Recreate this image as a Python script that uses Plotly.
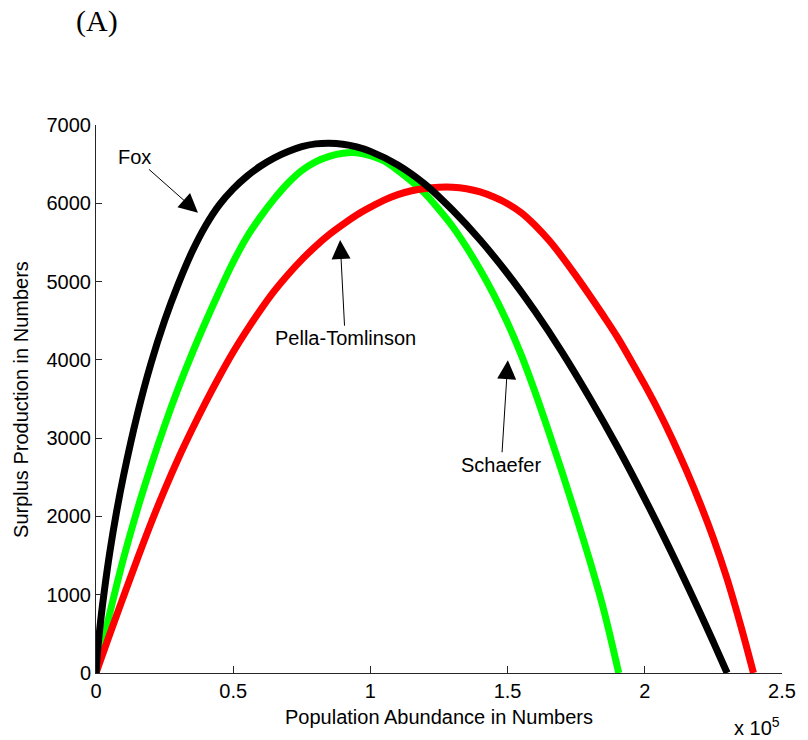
import plotly.graph_objects as go

# Population abundance (x 10^5) and surplus production
fox_n = [0, 0.005, 0.01, 0.02, 0.03, 0.05, 0.075, 0.10, 0.15, 0.20, 0.25, 0.30, 0.35, 0.40,
         0.45, 0.50, 0.55, 0.60, 0.65, 0.70, 0.75, 0.80, 0.85, 0.90, 0.95, 1.00, 1.10, 1.20,
         1.30, 1.40, 1.50, 1.60, 1.70, 1.80, 1.90, 2.00, 2.10, 2.20, 2.25, 2.30]
fox_p = [0, 250, 440, 760, 1040, 1535, 2060, 2515, 3295, 3950, 4500, 4970, 5380, 5717,
         5983, 6184, 6345, 6476, 6581, 6662, 6724, 6759, 6768, 6755, 6720, 6663, 6490, 6240,
         5910, 5530, 5100, 4620, 4090, 3510, 2890, 2225, 1520, 780, 395, 0]

pella_n = [0, 0.025, 0.05, 0.10, 0.15, 0.20, 0.25, 0.30, 0.35, 0.40, 0.45, 0.50, 0.55, 0.60,
           0.65, 0.70, 0.75, 0.80, 0.85, 0.90, 0.95, 1.00, 1.05, 1.10, 1.15, 1.20, 1.25, 1.30,
           1.35, 1.40, 1.45, 1.50, 1.55, 1.60, 1.65, 1.70, 1.75, 1.80, 1.85, 1.905]
pella_p = [0, 390, 760, 1460, 2080, 2640, 3160, 3640, 4080, 4490, 4880, 5250, 5570, 5830,
           6060, 6260, 6420, 6530, 6600, 6640, 6645, 6610, 6540, 6420, 6280, 6120, 5920, 5700,
           5440, 5150, 4830, 4470, 4060, 3590, 3080, 2550, 2000, 1430, 810, 0]

schaefer_n = [0, 0.05, 0.10, 0.15, 0.20, 0.25, 0.30, 0.35, 0.40, 0.45, 0.50, 0.55, 0.60, 0.65,
              0.70, 0.75, 0.80, 0.85, 0.90, 0.95, 1.00, 1.05, 1.10, 1.15, 1.20, 1.25, 1.30, 1.35,
              1.40, 1.45, 1.50, 1.55, 1.60, 1.65, 1.70, 1.75, 1.80, 1.85, 1.90, 1.95, 2.00, 2.05,
              2.10, 2.15, 2.20, 2.25, 2.30, 2.35, 2.396]
schaefer_p = [0, 495, 975, 1450, 1910, 2340, 2740, 3110, 3460, 3790, 4100, 4380, 4640, 4880,
              5090, 5280, 5450, 5600, 5730, 5850, 5950, 6040, 6110, 6160, 6190, 6205, 6205, 6185,
              6145, 6080, 5995, 5880, 5720, 5530, 5310, 5070, 4820, 4560, 4290, 3990, 3680, 3350,
              2990, 2600, 2180, 1720, 1200, 600, 0]

x_ticks = [0, 0.5, 1, 1.5, 2, 2.5]
x_tick_labels = ["0", "0.5", "1", "1.5", "2", "2.5"]
y_ticks = [0, 1000, 2000, 3000, 4000, 5000, 6000, 7000]

FONT = "Liberation Sans, Arial, sans-serif"

fig = go.Figure()
fig.add_trace(go.Scatter(x=pella_n, y=pella_p, mode="lines", name="Pella-Tomlinson",
                         line=dict(color="#00ff00", width=7, shape="spline", smoothing=1.0)))
fig.add_trace(go.Scatter(x=schaefer_n, y=schaefer_p, mode="lines", name="Schaefer",
                         line=dict(color="#ff0000", width=7, shape="spline", smoothing=1.0)))
fig.add_trace(go.Scatter(x=fox_n, y=fox_p, mode="lines", name="Fox",
                         line=dict(color="#000000", width=7, shape="spline", smoothing=1.0)))

# labels with arrows: (label, arrow tip, text centre) in data units
arrows = [
    ("Fox", (0.3716, 5879), (0.142, 6592)),
    ("Pella-Tomlinson", (0.8896, 5530), (0.908, 4277)),
    ("Schaefer", (1.501, 3996), (1.477, 2660)),
]
annotations = []
for label, tip, txt in arrows:
    annotations.append(dict(x=tip[0], y=tip[1], ax=txt[0], ay=txt[1], xref="x", yref="y",
                            axref="x", ayref="y", text=label, showarrow=True, arrowhead=2,
                            arrowsize=3.8, arrowwidth=1, arrowcolor="#000000", standoff=0,
                            startstandoff=0,
                            font=dict(family=FONT, size=20, color="#000000")))

# axis titles, exponent and panel label
annotations.append(dict(x=0.5, y=-0.0795, xref="paper", yref="paper",
                        text="Population Abundance in Numbers", showarrow=False,
                        font=dict(family=FONT, size=20, color="#000000"),
                        xanchor="center", yanchor="middle"))
annotations.append(dict(x=-0.1094, y=0.5, xref="paper", yref="paper",
                        text="Surplus Production in Numbers", showarrow=False, textangle=-90,
                        font=dict(family=FONT, size=20, color="#000000"),
                        xanchor="center", yanchor="middle"))
annotations.append(dict(x=1.0, y=-0.098, xref="paper", yref="paper",
                        text="x 10<sup>5</sup>", showarrow=False,
                        font=dict(family=FONT, size=20, color="#000000"),
                        xanchor="right", yanchor="middle"))
annotations.append(dict(x=0.0014, y=1.19, xref="paper", yref="paper",
                        text="(A)", showarrow=False,
                        font=dict(family="Liberation Serif, Times New Roman, serif", size=30,
                                  color="#000000"),
                        xanchor="center", yanchor="middle"))

axis_common = dict(showline=True, linecolor="#262626", linewidth=1, ticks="inside",
                   tickcolor="#262626", tickwidth=1, showgrid=False, zeroline=False,
                   tickfont=dict(family=FONT, size=20, color="#000000"))

fig.update_layout(
    width=808, height=740,
    margin=dict(l=96, r=17, t=125, b=67),
    paper_bgcolor="#ffffff", plot_bgcolor="#ffffff",
    showlegend=False,
    xaxis=dict(range=[0, 2.5], tickvals=x_ticks, ticktext=x_tick_labels, ticklen=7,
               **axis_common),
    yaxis=dict(range=[0, 7000], tickvals=y_ticks, ticklen=6, **axis_common),
    annotations=annotations,
)

fig.write_html("out.html")
